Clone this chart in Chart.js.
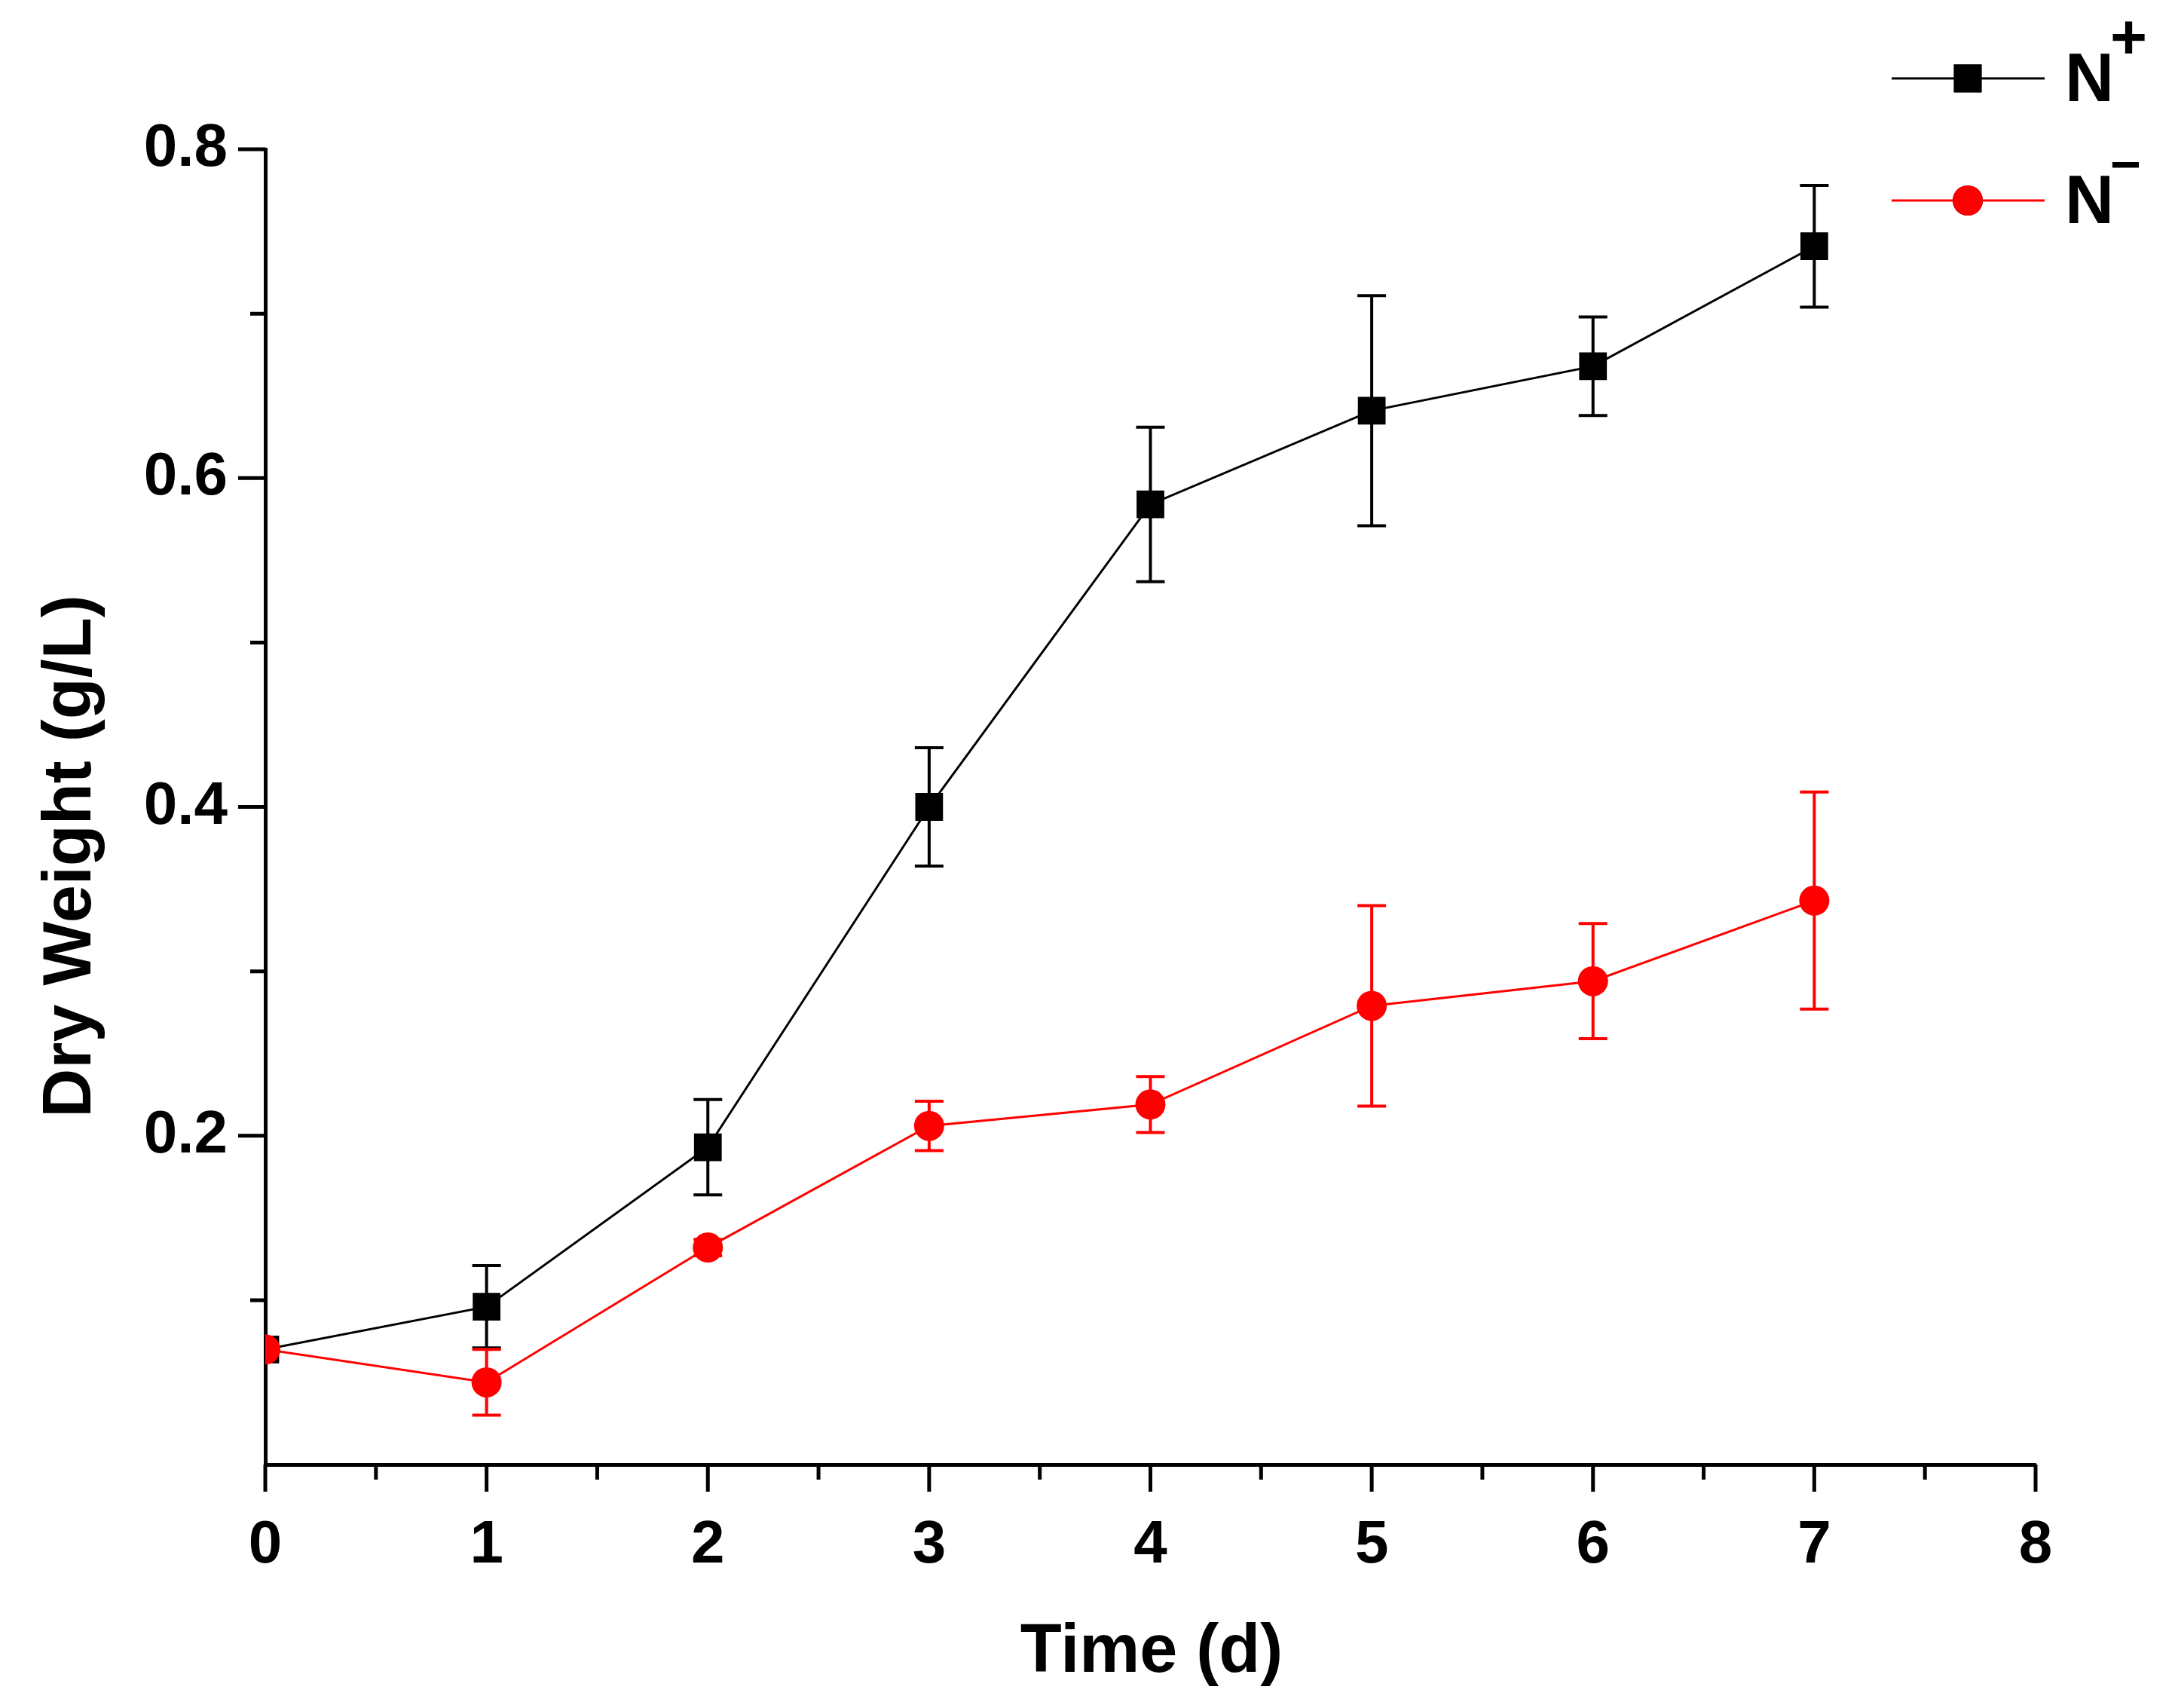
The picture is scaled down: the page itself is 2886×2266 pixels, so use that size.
<!DOCTYPE html>
<html>
<head>
<meta charset="utf-8">
<script src="https://cdn.jsdelivr.net/npm/chart.js@4"></script>
<style>
  html, body { margin: 0; padding: 0; background: #fff; }
  #wrap { width: 2886px; height: 2266px; }
</style>
</head>
<body>
<div id="wrap"><canvas id="myChart" width="2886" height="2266"></canvas></div>
<script>
// days
const days = [0, 1, 2, 3, 4, 5, 6, 7];

// N+ dry weight (g/L) and its error
const nPlus = [0.070, 0.096, 0.193, 0.400, 0.584, 0.641, 0.668, 0.741];
const nPlusErr = [0, 0.025, 0.029, 0.036, 0.047, 0.070, 0.030, 0.037];

// N- dry weight (g/L) and its error
const nMinus = [0.070, 0.050, 0.132, 0.206, 0.219, 0.279, 0.294, 0.343];
const nMinusErr = [0, 0.020, 0.005, 0.015, 0.017, 0.061, 0.035, 0.066];

const FONT = "'Liberation Sans', Arial, sans-serif";

function toPoints(ys) {
    return days.map((d, i) => ({ x: d, y: ys[i] }));
}

// error bars, drawn before each dataset so the markers sit on top
const errorBars = {
    id: 'errorBars',
    beforeDatasetDraw(chart, args) {
        const ds = chart.data.datasets[args.index];
        if (!ds.errors) return;
        const ctx = chart.ctx;
        const ys = chart.scales.y;
        ctx.save();
        ctx.strokeStyle = ds.borderColor;
        ctx.lineWidth = 4;
        args.meta.data.forEach((pt, i) => {
            const e = ds.errors[i];
            if (!e) return;
            const v = ds.data[i].y;
            const top = ys.getPixelForValue(v + e);
            const bot = ys.getPixelForValue(v - e);
            ctx.beginPath();
            ctx.moveTo(pt.x, top);
            ctx.lineTo(pt.x, bot);
            ctx.moveTo(pt.x - 19, top);
            ctx.lineTo(pt.x + 19, top);
            ctx.moveTo(pt.x - 19, bot);
            ctx.lineTo(pt.x + 19, bot);
            ctx.stroke();
        });
        ctx.restore();
    }
};

// outward ticks, long on majors and short on minors
const axisTicks = {
    id: 'axisTicks',
    afterDraw(chart) {
        const ctx = chart.ctx;
        const xs = chart.scales.x;
        const ys = chart.scales.y;
        const area = chart.chartArea;
        ctx.save();
        ctx.strokeStyle = '#000';
        ctx.lineWidth = 5;
        ctx.beginPath();
        for (let v = 0; v <= 8; v += 0.5) {
            const px = xs.getPixelForValue(v);
            const len = Number.isInteger(v) ? 36 : 20;
            ctx.moveTo(px, area.bottom);
            ctx.lineTo(px, area.bottom + len);
        }
        for (let k = 1; k <= 8; k++) {
            const py = ys.getPixelForValue(k / 10);
            const len = k % 2 === 0 ? 36 : 20;
            ctx.moveTo(area.left, py);
            ctx.lineTo(area.left - len, py);
        }
        ctx.stroke();

        // axis titles
        ctx.fillStyle = '#000';
        ctx.font = 'bold 90px ' + FONT;
        ctx.textAlign = 'center';
        ctx.textBaseline = 'alphabetic';
        ctx.fillText('Time (d)', 1528, 2218);
        ctx.save();
        ctx.translate(120, 1136);
        ctx.rotate(-Math.PI / 2);
        ctx.fillText('Dry Weight (g/L)', 0, 0);
        ctx.restore();

        // legend with superscripts
        const rows = [
            { ds: chart.data.datasets[1], y: 104, sup: '+', supSize: 84, supY: -26 },
            { ds: chart.data.datasets[0], y: 266, sup: '\u2212', supSize: 70, supY: -24 }
        ];
        rows.forEach(r => {
            ctx.strokeStyle = r.ds.borderColor;
            ctx.lineWidth = 3;
            ctx.beginPath();
            ctx.moveTo(2510, r.y);
            ctx.lineTo(2713, r.y);
            ctx.stroke();
            Chart.helpers.drawPoint(ctx, {
                pointStyle: r.ds.pointStyle,
                radius: r.ds.pointRadius,
                borderWidth: 0
            }, 2611, r.y);
            ctx.fillStyle = r.ds.backgroundColor;
            ctx.fill();
            ctx.fillStyle = '#000';
            ctx.textAlign = 'left';
            ctx.font = 'bold 90px ' + FONT;
            ctx.fillText('N', 2740, r.y + 30);
            ctx.font = 'bold ' + r.supSize + 'px ' + FONT;
            ctx.fillText(r.sup, 2800, r.y + r.supY);
        });
        ctx.restore();
    }
};

const config = {
    type: 'line',
    data: {
        datasets: [
            {
                label: 'N-',
                data: toPoints(nMinus),
                errors: nMinusErr,
                borderColor: '#ff0000',
                backgroundColor: '#ff0000',
                borderWidth: 3,
                pointStyle: 'circle',
                pointRadius: 20,
                pointBorderWidth: 0,
                order: 0
            },
            {
                label: 'N+',
                data: toPoints(nPlus),
                errors: nPlusErr,
                borderColor: '#000000',
                backgroundColor: '#000000',
                borderWidth: 3,
                pointStyle: 'rect',
                pointRadius: 26,
                pointBorderWidth: 0,
                order: 1
            }
        ]
    },
    options: {
        responsive: false,
        animation: false,
        devicePixelRatio: 1,
        layout: { padding: { top: 198, right: 185, left: 0, bottom: 0 } },
        plugins: {
            legend: { display: false },
            tooltip: { enabled: false }
        },
        scales: {
            x: {
                type: 'linear',
                min: 0,
                max: 8,
                afterFit(scale) { scale.height = 323; },
                border: { display: true, color: '#000', width: 5 },
                grid: { display: false, drawTicks: false },
                ticks: {
                    stepSize: 1,
                    padding: 60,
                    color: '#000',
                    font: { family: FONT, size: 80, weight: 'bold' }
                }
            },
            y: {
                min: 0,
                max: 0.8,
                afterFit(scale) { scale.width = 352; },
                border: { display: true, color: '#000', width: 5 },
                grid: { display: false, drawTicks: false },
                ticks: {
                    stepSize: 0.1,
                    padding: 50,
                    color: '#000',
                    font: { family: FONT, size: 80, weight: 'bold' },
                    callback: function (v) {
                        const r = Math.round(v * 10);
                        return (r > 0 && r % 2 === 0) ? (r / 10).toFixed(1) : '';
                    }
                }
            }
        }
    },
    plugins: [errorBars, axisTicks]
};

const myChart = new Chart(document.getElementById('myChart'), config);
</script>
</body>
</html>
